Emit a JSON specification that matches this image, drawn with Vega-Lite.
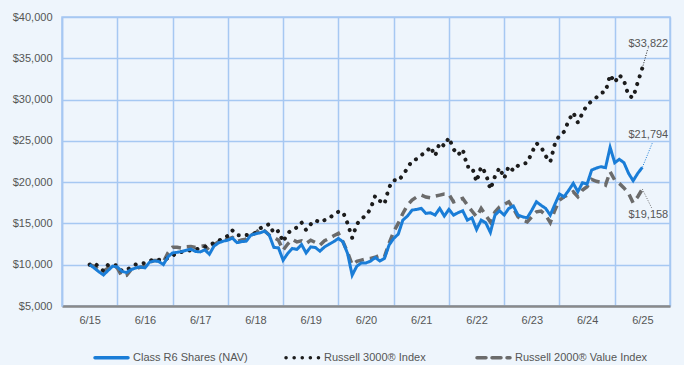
{
  "$schema": "https://vega.github.io/schema/vega-lite/v6.json",
  "width": 608,
  "height": 289,
  "autosize": "none",
  "padding": {"left": 62, "top": 17, "right": 14, "bottom": 59},
  "background": "#eef5fc",
  "config": {
    "font": "Liberation Sans",
    "view": {"stroke": "#a6c8f2", "strokeWidth": 1.5}
  },
  "data": {"values": [
    {"m":0,"r6":10000,"r3":10000,"r2":10000},
    {"m":1,"r6":9600,"r3":10220,"r2":9800},
    {"m":2,"r6":9150,"r3":9730,"r2":9400},
    {"m":3,"r6":8760,"r3":9250,"r2":9200},
    {"m":4,"r6":9300,"r3":10000,"r2":9600},
    {"m":5,"r6":9820,"r3":10020,"r2":9900},
    {"m":6,"r6":9730,"r3":9900,"r2":9600},
    {"m":7,"r6":9200,"r3":9250,"r2":8600},
    {"m":8,"r6":9050,"r3":9330,"r2":8700},
    {"m":9,"r6":9400,"r3":9700,"r2":9400},
    {"m":10,"r6":9610,"r3":10020,"r2":9500},
    {"m":11,"r6":9730,"r3":10100,"r2":9700},
    {"m":12,"r6":9610,"r3":10220,"r2":9800},
    {"m":13,"r6":10300,"r3":10450,"r2":10300},
    {"m":14,"r6":10460,"r3":10670,"r2":10500},
    {"m":15,"r6":10390,"r3":10600,"r2":10500},
    {"m":16,"r6":10020,"r3":10550,"r2":10300},
    {"m":17,"r6":10950,"r3":10800,"r2":11430},
    {"m":18,"r6":11430,"r3":11100,"r2":12100},
    {"m":19,"r6":11500,"r3":11400,"r2":12100},
    {"m":20,"r6":11600,"r3":11550,"r2":12000},
    {"m":21,"r6":11760,"r3":11650,"r2":12160},
    {"m":22,"r6":11880,"r3":11760,"r2":12200},
    {"m":23,"r6":11600,"r3":11850,"r2":12100},
    {"m":24,"r6":11550,"r3":11970,"r2":12200},
    {"m":25,"r6":11800,"r3":12150,"r2":12300},
    {"m":26,"r6":11270,"r3":12370,"r2":11700},
    {"m":27,"r6":12250,"r3":12650,"r2":12400},
    {"m":28,"r6":12650,"r3":12900,"r2":12800},
    {"m":29,"r6":12850,"r3":13200,"r2":12900},
    {"m":30,"r6":12970,"r3":13500,"r2":13100},
    {"m":31,"r6":13220,"r3":14150,"r2":13300},
    {"m":32,"r6":12670,"r3":13580,"r2":12800},
    {"m":33,"r6":12800,"r3":13550,"r2":13000},
    {"m":34,"r6":12850,"r3":13580,"r2":13100},
    {"m":35,"r6":13580,"r3":13700,"r2":13600},
    {"m":36,"r6":13740,"r3":13860,"r2":13800},
    {"m":37,"r6":13860,"r3":14400,"r2":14400},
    {"m":38,"r6":14060,"r3":14700,"r2":14100},
    {"m":39,"r6":13580,"r3":14910,"r2":13580},
    {"m":40,"r6":12090,"r3":13790,"r2":13300},
    {"m":41,"r6":12040,"r3":14100,"r2":12970},
    {"m":42,"r6":10550,"r3":12770,"r2":11760},
    {"m":43,"r6":11360,"r3":13790,"r2":12500},
    {"m":44,"r6":11970,"r3":14300,"r2":13060},
    {"m":45,"r6":11850,"r3":14500,"r2":12770},
    {"m":46,"r6":12450,"r3":15120,"r2":12900},
    {"m":47,"r6":11430,"r3":14190,"r2":12570},
    {"m":48,"r6":12160,"r3":14910,"r2":12970},
    {"m":49,"r6":12090,"r3":15400,"r2":12700},
    {"m":50,"r6":11640,"r3":15120,"r2":12370},
    {"m":51,"r6":12160,"r3":15400,"r2":12900},
    {"m":52,"r6":12490,"r3":15600,"r2":13180},
    {"m":53,"r6":12800,"r3":16100,"r2":13500},
    {"m":54,"r6":13180,"r3":16410,"r2":13790},
    {"m":55,"r6":12770,"r3":16400,"r2":12770},
    {"m":56,"r6":11360,"r3":15000,"r2":11500},
    {"m":57,"r6":8730,"r3":13250,"r2":10000},
    {"m":58,"r6":9820,"r3":14900,"r2":10400},
    {"m":59,"r6":10220,"r3":15600,"r2":10550},
    {"m":60,"r6":10220,"r3":15900,"r2":10700},
    {"m":61,"r6":10430,"r3":16800,"r2":10750},
    {"m":62,"r6":10870,"r3":18350,"r2":10900},
    {"m":63,"r6":10460,"r3":17740,"r2":11150},
    {"m":64,"r6":10750,"r3":17340,"r2":10950},
    {"m":65,"r6":12370,"r3":19370,"r2":12570},
    {"m":66,"r6":13180,"r3":20260,"r2":13980},
    {"m":67,"r6":13700,"r3":20130,"r2":15000},
    {"m":68,"r6":15400,"r3":20860,"r2":16210},
    {"m":69,"r6":15890,"r3":21680,"r2":17200},
    {"m":70,"r6":16610,"r3":22600,"r2":17830},
    {"m":71,"r6":16700,"r3":22800,"r2":18200},
    {"m":72,"r6":16820,"r3":23300,"r2":18430},
    {"m":73,"r6":16210,"r3":23570,"r2":18200},
    {"m":74,"r6":16290,"r3":24300,"r2":18100},
    {"m":75,"r6":16010,"r3":23170,"r2":18300},
    {"m":76,"r6":16820,"r3":24780,"r2":18430},
    {"m":77,"r6":15890,"r3":24380,"r2":18550},
    {"m":78,"r6":16700,"r3":25390,"r2":18550},
    {"m":79,"r6":16010,"r3":24000,"r2":17620},
    {"m":80,"r6":16300,"r3":23290,"r2":17800},
    {"m":81,"r6":16530,"r3":23980,"r2":18030},
    {"m":82,"r6":15400,"r3":21870,"r2":17220},
    {"m":83,"r6":15680,"r3":21870,"r2":16500},
    {"m":84,"r6":14270,"r3":20050,"r2":15800},
    {"m":85,"r6":15400,"r3":21870,"r2":16820},
    {"m":86,"r6":15070,"r3":21070,"r2":16000},
    {"m":87,"r6":13910,"r3":19130,"r2":15190},
    {"m":88,"r6":16010,"r3":20700,"r2":16400},
    {"m":89,"r6":16530,"r3":21750,"r2":17000},
    {"m":90,"r6":16010,"r3":20460,"r2":17300},
    {"m":91,"r6":16820,"r3":21950,"r2":17620},
    {"m":92,"r6":17100,"r3":21380,"r2":16800},
    {"m":93,"r6":16010,"r3":22000,"r2":15800},
    {"m":94,"r6":15800,"r3":22200,"r2":15400},
    {"m":95,"r6":15680,"r3":22350,"r2":15190},
    {"m":96,"r6":16600,"r3":23570,"r2":15800},
    {"m":97,"r6":17620,"r3":24710,"r2":16400},
    {"m":98,"r6":17200,"r3":24300,"r2":16500},
    {"m":99,"r6":16820,"r3":23170,"r2":16000},
    {"m":100,"r6":16010,"r3":22440,"r2":15100},
    {"m":101,"r6":17300,"r3":24630,"r2":16600},
    {"m":102,"r6":18550,"r3":25680,"r2":17830},
    {"m":103,"r6":18230,"r3":26100,"r2":18230},
    {"m":104,"r6":19000,"r3":27460,"r2":18500},
    {"m":105,"r6":19850,"r3":28430,"r2":18840},
    {"m":106,"r6":18840,"r3":27210,"r2":18230},
    {"m":107,"r6":19930,"r3":28350,"r2":19040},
    {"m":108,"r6":19770,"r3":29360,"r2":19450},
    {"m":109,"r6":21470,"r3":29800,"r2":20340},
    {"m":110,"r6":21700,"r3":30240,"r2":20100},
    {"m":111,"r6":21870,"r3":30800,"r2":20000},
    {"m":112,"r6":21750,"r3":30940,"r2":19650},
    {"m":113,"r6":24220,"r3":33000,"r2":21260},
    {"m":114,"r6":22350,"r3":32060,"r2":20250},
    {"m":115,"r6":22770,"r3":33000,"r2":19850},
    {"m":116,"r6":22350,"r3":32310,"r2":19300},
    {"m":117,"r6":21070,"r3":30450,"r2":18640},
    {"m":118,"r6":20170,"r3":30240,"r2":17500},
    {"m":119,"r6":21070,"r3":32100,"r2":18230},
    {"m":120,"r6":21794,"r3":33822,"r2":19158}
  ]},
  "encoding": {
    "x": {
      "field": "m", "type": "quantitative",
      "scale": {"domain": [-6, 126], "nice": false, "zero": false},
      "axis": {
        "title": null,
        "values": [-6,0,6,12,18,24,30,36,42,48,54,60,66,72,78,84,90,96,102,108,114,120,126],
        "labelExpr": "datum.value % 12 == 0 ? '6/' + (15 + datum.value / 12) : ''",
        "labelOverlap": false,
        "labelFlush": false,
        "labelFontSize": 11,
        "labelColor": "#555555",
        "labelPadding": 8,
        "ticks": false,
        "domainColor": "#8a8a8a",
        "domainWidth": 2.5,
        "grid": true,
        "gridColor": "#a6c8f2",
        "gridWidth": 1.5,
        "gridOpacity": {"condition": {"test": "datum.value % 12 != 0", "value": 1}, "value": 0}
      }
    },
    "y": {
      "field": "v", "type": "quantitative",
      "scale": {"domain": [5000, 40000], "nice": false, "zero": false},
      "axis": {
        "title": null,
        "values": [5000,10000,15000,20000,25000,30000,35000,40000],
        "format": "$,.0f",
        "labelFontSize": 11,
        "labelColor": "#555555",
        "labelPadding": 10,
        "ticks": false,
        "domainColor": "#a6c8f2",
        "domainWidth": 1.5,
        "grid": true,
        "gridColor": "#a6c8f2",
        "gridWidth": 1.5
      }
    }
  },
  "layer": [
    {
      "transform": [{"fold": ["r2"], "as": ["series", "v"]}],
      "mark": {"type": "line", "strokeWidth": 3.5, "strokeCap": "butt"},
      "encoding": {
        "color": {"field": "series", "type": "nominal",
          "scale": {"domain": ["r6","r3","r2"], "range": ["#1a7dd7","#1c1c1c","#6b6b6b"]},
          "legend": {"orient": "none", "legendX": 31, "legendY": 322, "direction": "horizontal", "columns": 3, "gridAlign": "all", "columnPadding": 13, "title": null, "symbolType": "stroke", "symbolSize": 1089, "symbolStrokeWidth": 3.5, "labelFontSize": 11, "labelColor": "#555555", "labelOffset": 3, "labelLimit": 300,
            "labelExpr": "datum.value == 'r6' ? 'Class R6 Shares (NAV)' : datum.value == 'r3' ? 'Russell 3000® Index' : 'Russell 2000® Value Index'",
            "encode": {"symbols": {"update": {"strokeCap": {"value": "round"}}}}}
        },
        "strokeDash": {"field": "series", "type": "nominal",
          "scale": {"domain": ["r6","r3","r2"], "range": [[1,0],[0.1,8],[9,6]]},
          "legend": {"orient": "none", "legendX": 31, "legendY": 322, "direction": "horizontal", "columns": 3, "gridAlign": "all", "columnPadding": 13, "title": null, "symbolType": "stroke", "symbolSize": 1089, "symbolStrokeWidth": 3.5, "labelFontSize": 11, "labelColor": "#555555", "labelOffset": 3, "labelLimit": 300,
            "labelExpr": "datum.value == 'r6' ? 'Class R6 Shares (NAV)' : datum.value == 'r3' ? 'Russell 3000® Index' : 'Russell 2000® Value Index'",
            "encode": {"symbols": {"update": {"strokeCap": {"value": "round"}}}}}
        }
      }
    },
    {
      "transform": [{"fold": ["r3"], "as": ["series", "v"]}],
      "mark": {"type": "line", "strokeWidth": 4, "strokeCap": "round"},
      "encoding": {
        "color": {"field": "series", "type": "nominal"},
        "strokeDash": {"field": "series", "type": "nominal"}
      }
    },
    {
      "transform": [{"fold": ["r6"], "as": ["series", "v"]}],
      "mark": {"type": "line", "strokeWidth": 3},
      "encoding": {
        "color": {"field": "series", "type": "nominal"},
        "strokeDash": {"field": "series", "type": "nominal"}
      }
    },
    {
      "data": {"values": [
        {"series": "r3", "m": 120, "v": 33822, "m2": 121.1, "v2": 36000},
        {"series": "r6", "m": 120, "v": 21794, "m2": 122.2, "v2": 24800},
        {"series": "r2", "m": 120, "v": 19158, "m2": 122, "v2": 16900}
      ]},
      "mark": {"type": "rule", "strokeWidth": 1, "strokeDash": [1, 1.5]},
      "encoding": {
        "x2": {"field": "m2"},
        "y2": {"field": "v2"},
        "color": {"field": "series", "type": "nominal"}
      }
    },
    {
      "data": {"values": [
        {"m": 121.3, "v": 36760, "label": "$33,822"},
        {"m": 121.3, "v": 25716, "label": "$21,794"},
        {"m": 121.3, "v": 16007, "label": "$19,158"}
      ]},
      "mark": {"type": "text", "fontSize": 11, "color": "#555555"},
      "encoding": {"text": {"field": "label"}}
    }
  ]
}
